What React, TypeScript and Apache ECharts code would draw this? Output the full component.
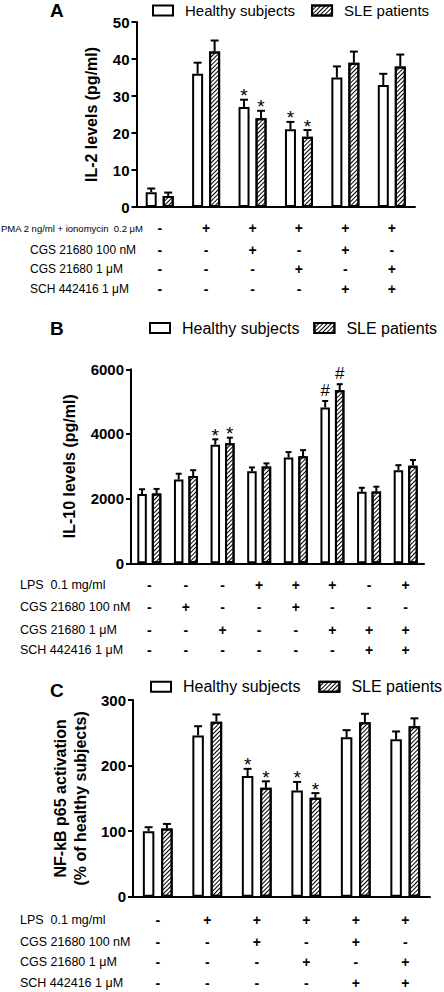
import React, { useEffect, useRef } from "react";
import * as echarts from "echarts";

// ---------- Panel A: IL-2 ----------
const il2Categories = ["G1", "G2", "G3", "G4", "G5", "G6"];
const il2Healthy = [4, 36, 27, 21, 35, 33];
const il2HealthySem = [1, 3, 2, 2, 3, 3];
const il2Sle = [3, 42, 24, 19, 39, 38];
const il2SleSem = [0.9, 3, 2, 1.8, 3, 3.2];
const il2HealthyMarks = ["", "", "*", "*", "", ""];
const il2SleMarks = ["", "", "*", "*", "", ""];
const il2RowLabels = [
  "PMA 2 ng/ml + ionomycin  0.2 μM",
  "CGS 21680 100 nM",
  "CGS 21680 1 μM",
  "SCH 442416 1 μM",
];
const il2Rows = [
  ["-", "+", "+", "+", "+", "+"],
  ["-", "-", "+", "-", "+", "-"],
  ["-", "-", "-", "+", "-", "+"],
  ["-", "-", "-", "-", "+", "+"],
];

// ---------- Panel B: IL-10 ----------
const il10Categories = ["G1", "G2", "G3", "G4", "G5", "G6", "G7", "G8"];
const il10Healthy = [2140, 2590, 3670, 2850, 3270, 4820, 2210, 2880];
const il10HealthySem = [150, 180, 165, 115, 170, 200, 125, 155];
const il10Sle = [2160, 2700, 3710, 2990, 3310, 5350, 2220, 3020];
const il10SleSem = [140, 180, 175, 100, 190, 190, 150, 175];
const il10HealthyMarks = ["", "", "*", "", "", "#", "", ""];
const il10SleMarks = ["", "", "*", "", "", "#", "", ""];
const il10RowLabels = [
  "LPS  0.1 mg/ml",
  "CGS 21680 100 nM",
  "CGS 21680 1 μM",
  "SCH 442416 1 μM",
];
const il10Rows = [
  ["-", "-", "-", "+", "+", "+", "-", "+"],
  ["-", "+", "-", "-", "+", "-", "-", "-"],
  ["-", "-", "+", "-", "-", "+", "+", "+"],
  ["-", "-", "-", "-", "-", "-", "+", "+"],
];

// ---------- Panel C: NF-kB p65 ----------
const nfkbCategories = ["G1", "G2", "G3", "G4", "G5", "G6"];
const nfkbHealthy = [100, 246, 184, 162, 243, 240];
const nfkbHealthySem = [6, 14, 11, 13, 11, 12];
const nfkbSle = [104, 267, 166, 151, 266, 260];
const nfkbSleSem = [7, 11, 10, 7, 13, 12];
const nfkbHealthyMarks = ["", "", "*", "*", "", ""];
const nfkbSleMarks = ["", "", "*", "*", "", ""];
const nfkbRowLabels = [
  "LPS  0.1 mg/ml",
  "CGS 21680 100 nM",
  "CGS 21680 1 μM",
  "SCH 442416 1 μM",
];
const nfkbRows = [
  ["-", "+", "+", "+", "+", "+"],
  ["-", "-", "+", "-", "+", "-"],
  ["-", "-", "-", "+", "-", "+"],
  ["-", "-", "-", "-", "+", "+"],
];

const FONT = "'Liberation Sans', Arial, Helvetica, sans-serif";

const panels = [
  {
    title: "A",
    titleTop: 0.5,
    cats: il2Categories,
    healthy: il2Healthy,
    healthySem: il2HealthySem,
    sle: il2Sle,
    sleSem: il2SleSem,
    hMarks: il2HealthyMarks,
    sMarks: il2SleMarks,
    rowLabels: il2RowLabels,
    rows: il2Rows,
    grid: { left: 136.5, right: 29, top: 22, height: 185 },
    yMax: 50,
    yInterval: 10,
    yName: "IL-2 levels (pg/ml)",
    nameGap: 30,
    barWidth: 11,
    gap: 6,
    cap: 4,
    rowOffsets: [21.3, 43, 61.5, 82],
    labelX: [1, 30, 30, 30],
    labelFont: [9.5, 12, 12, 12],
    legendLeft: 152,
    legendTop: 2,
    legendFont: 15,
    legendGap: 16,
  },
  {
    title: "B",
    titleTop: 318,
    cats: il10Categories,
    healthy: il10Healthy,
    healthySem: il10HealthySem,
    sle: il10Sle,
    sleSem: il10SleSem,
    hMarks: il10HealthyMarks,
    sMarks: il10SleMarks,
    rowLabels: il10RowLabels,
    rows: il10Rows,
    grid: { left: 131, right: 20, top: 369.3, height: 194 },
    yMax: 6000,
    yInterval: 2000,
    yName: "IL-10 levels (pg/ml)",
    nameGap: 40,
    barWidth: 9.5,
    gap: 5,
    cap: 3,
    rowOffsets: [21.7, 44, 66.7, 86.7],
    labelX: [20, 20, 20, 20],
    labelFont: [12.5, 12.5, 12.5, 12.5],
    legendLeft: 149,
    legendTop: 319,
    legendFont: 16,
    legendGap: 14,
  },
  {
    title: "C",
    titleTop: 680,
    cats: nfkbCategories,
    healthy: nfkbHealthy,
    healthySem: nfkbHealthySem,
    sle: nfkbSle,
    sleSem: nfkbSleSem,
    hMarks: nfkbHealthyMarks,
    sMarks: nfkbSleMarks,
    rowLabels: nfkbRowLabels,
    rows: nfkbRows,
    grid: { left: 133, right: 14, top: 700, height: 196.7 },
    yMax: 300,
    yInterval: 100,
    yName: "NF-kB p65 activation\n(% of healthy subjects)",
    nameGap: 38,
    barWidth: 11.5,
    gap: 6.8,
    cap: 4,
    rowOffsets: [23.3, 45, 65.7, 86.7],
    labelX: [20, 20, 20, 20],
    labelFont: [12.5, 12.5, 12.5, 12.5],
    legendLeft: 150,
    legendTop: 677.7,
    legendFont: 16,
    legendGap: 18,
  },
];

const hatch = {
  symbol: "rect",
  symbolSize: 1,
  dashArrayX: [[1, 0]],
  dashArrayY: [1, 1.3],
  rotation: -Math.PI / 4,
  color: "#000",
  backgroundColor: "#fff",
};

function makeErrorRender(side: number, barWidth: number, gap: number, cap: number, marks: string[]) {
  return (params: any, api: any) => {
    const i = api.value(0);
    const v = api.value(1);
    const e = api.value(2);
    const base = api.coord([i, v]);
    const top = api.coord([i, v + e]);
    const x = base[0] + (side * (barWidth + gap)) / 2;
    const children: any[] = [
      { type: "line", shape: { x1: x, y1: base[1], x2: x, y2: top[1] }, style: { stroke: "#000", lineWidth: 2 } },
      { type: "line", shape: { x1: x - cap, y1: top[1], x2: x + cap, y2: top[1] }, style: { stroke: "#000", lineWidth: 2 } },
    ];
    const m = marks[params.dataIndex];
    if (m) {
      const isStar = m === "*";
      children.push({
        type: "text",
        x,
        y: top[1] - (isStar ? 4 : 10.5),
        style: {
          text: m,
          fill: "#000",
          fontSize: isStar ? 19 : 17,
          fontFamily: FONT,
          align: "center",
          verticalAlign: "middle",
        },
      });
    }
    return { type: "group", children };
  };
}

function buildOption() {
  const grid: any[] = [];
  const xAxis: any[] = [];
  const yAxis: any[] = [];
  const series: any[] = [];
  const legend: any[] = [];
  const title: any[] = [];
  const graphic: any[] = [];

  panels.forEach((p, pi) => {
    grid.push({ ...p.grid });
    const axisY = p.grid.top + p.grid.height;
    const mainX = xAxis.length;
    xAxis.push({
      type: "category",
      gridIndex: pi,
      data: p.cats,
      axisLine: { lineStyle: { color: "#000", width: 2 } },
      axisTick: { alignWithLabel: true, length: 5, lineStyle: { color: "#000", width: 2 } },
      axisLabel: { show: false },
      splitLine: { show: false },
    });
    p.rows.forEach((row, ri) => {
      xAxis.push({
        type: "category",
        gridIndex: pi,
        position: "bottom",
        offset: p.rowOffsets[ri],
        data: p.cats,
        axisLine: { show: false },
        axisTick: { show: false },
        splitLine: { show: false },
        axisLabel: {
          interval: 0,
          margin: 0,
          verticalAlign: "middle",
          fontSize: 14,
          fontWeight: "bold",
          fontFamily: FONT,
          color: "#000",
          formatter: (_v: string, idx: number) => row[idx],
        },
      });
      graphic.push({
        type: "text",
        x: p.labelX[ri],
        y: axisY + p.rowOffsets[ri],
        style: {
          text: p.rowLabels[ri],
          fill: "#000",
          fontSize: p.labelFont[ri],
          fontFamily: FONT,
          align: "left",
          verticalAlign: "middle",
        },
      });
    });
    yAxis.push({
      type: "value",
      gridIndex: pi,
      min: 0,
      max: p.yMax,
      interval: p.yInterval,
      axisLine: { show: true, lineStyle: { color: "#000", width: 2 } },
      axisTick: { show: true, length: 5, lineStyle: { color: "#000", width: 2 } },
      axisLabel: {
        fontSize: 15,
        fontWeight: "bold",
        fontFamily: FONT,
        color: "#000",
        margin: 7,
        formatter: (v: number) => String(v),
      },
      splitLine: { show: false },
      name: p.yName,
      nameLocation: "middle",
      nameGap: p.nameGap,
      nameTextStyle: { fontSize: 16, fontWeight: "bold", fontFamily: FONT, color: "#000", lineHeight: 20 },
    });
    const barGap = (p.gap / p.barWidth) * 100 + "%";
    series.push({
      type: "bar",
      name: "Healthy subjects",
      xAxisIndex: mainX,
      yAxisIndex: pi,
      data: p.healthy,
      barWidth: p.barWidth,
      barGap,
      itemStyle: { color: "#fff", borderColor: "#000", borderWidth: 2 },
    });
    series.push({
      type: "bar",
      name: "SLE patients",
      xAxisIndex: mainX,
      yAxisIndex: pi,
      data: p.sle,
      barWidth: p.barWidth,
      barGap,
      itemStyle: { color: "#fff", borderColor: "#000", borderWidth: 2, decal: hatch },
    });
    series.push({
      type: "custom",
      name: "Healthy subjects SEM",
      xAxisIndex: mainX,
      yAxisIndex: pi,
      z: 5,
      clip: false,
      encode: { x: 0, y: 1 },
      data: p.healthy.map((v, i) => [i, v, p.healthySem[i]]),
      renderItem: makeErrorRender(-1, p.barWidth, p.gap, p.cap, p.hMarks),
    });
    series.push({
      type: "custom",
      name: "SLE patients SEM",
      xAxisIndex: mainX,
      yAxisIndex: pi,
      z: 5,
      clip: false,
      encode: { x: 0, y: 1 },
      data: p.sle.map((v, i) => [i, v, p.sleSem[i]]),
      renderItem: makeErrorRender(1, p.barWidth, p.gap, p.cap, p.sMarks),
    });
    legend.push({
      data: ["Healthy subjects", "SLE patients"],
      left: p.legendLeft,
      top: p.legendTop,
      padding: 0,
      icon: "rect",
      itemWidth: 20,
      itemHeight: 10,
      itemGap: p.legendGap,
      selectedMode: false,
      itemStyle: { borderColor: "#000", borderWidth: 2 },
      textStyle: {
        fontSize: p.legendFont,
        fontFamily: FONT,
        color: "#000",
        lineHeight: p.legendFont + 2,
        padding: [0, 0, 0, 7],
      },
    });
    title.push({
      text: p.title,
      left: 50,
      top: p.titleTop,
      padding: 0,
      textStyle: { fontSize: 19, fontWeight: "bold", fontFamily: FONT, color: "#000", lineHeight: 20 },
    });
  });

  return {
    animation: false,
    backgroundColor: "#fff",
    title,
    legend,
    grid,
    xAxis,
    yAxis,
    series,
    graphic,
  };
}

export default function App() {
  const ref = useRef<HTMLDivElement>(null);
  useEffect(() => {
    if (!ref.current) return;
    const chart = echarts.init(ref.current, undefined, { renderer: "svg" });
    chart.setOption(buildOption() as any);
    return () => chart.dispose();
  }, []);
  return (
    <div
      ref={ref}
      style={{ position: "fixed", left: 0, top: 0, width: 444, height: 992, background: "#fff" }}
    />
  );
}
